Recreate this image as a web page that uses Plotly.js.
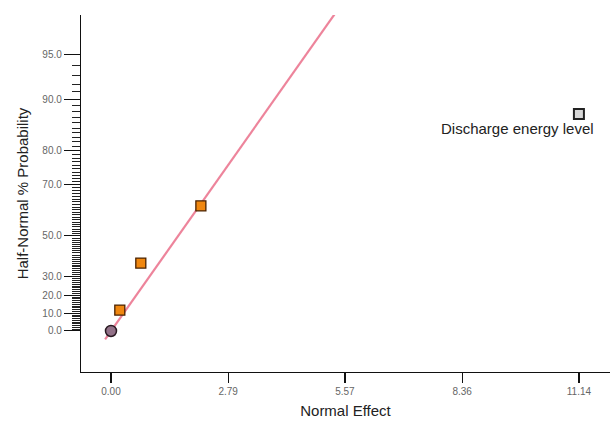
<!DOCTYPE html>
<html>
<head>
<meta charset="utf-8">
<script src="https://cdn.plot.ly/plotly-3.0.1.min.js"></script>
<style>html,body{margin:0;padding:0;background:#fff;}#chart{width:616px;height:424px;}</style>
</head>
<body>
<div id="chart"></div>
<script>
// ---- data (effects in Normal Effect units, probabilities in Half-Normal %) ----
var errorX = [0.00];
var errorP = [0.0];
var factorX = [0.21, 0.71, 2.14];
var factorP = [11.8, 37.0, 62.5];
var labeledX = [11.14];
var labeledP = [87.6];
var labeledText = ["Discharge energy level"];
// fitted line (x in effect units, y as half-normal score)
var lineX = [-0.14, 5.45];
var lineZ = [-0.06, 2.30];
// axis ticks
var xTickVals = [0.00, 2.79, 5.57, 8.36, 11.14];
var xTickText = ["0.00", "2.79", "5.57", "8.36", "11.14"];
var yTickPct = [0, 10, 20, 30, 50, 70, 80, 90, 95];
var yTickText = ["0.0", "10.0", "20.0", "30.0", "50.0", "70.0", "80.0", "90.0", "95.0"];

// inverse standard normal CDF (Acklam)
function qnorm(p) {
  var a = [-3.969683028665376e+01, 2.209460984245205e+02, -2.759285104469687e+02, 1.383577518672690e+02, -3.066479806614716e+01, 2.506628277459239e+00];
  var b = [-5.447609879822406e+01, 1.615858368580409e+02, -1.556989798598866e+02, 6.680131188771972e+01, -1.328068155288572e+01];
  var c = [-7.784894002430293e-03, -3.223964580411365e-01, -2.400758277161838e+00, -2.549732539343734e+00, 4.374664141464968e+00, 2.938163982698783e+00];
  var d = [7.784695709041462e-03, 3.224671290700398e-01, 2.445134137142996e+00, 3.754408661907416e+00];
  var pl = 0.02425, q, r;
  if (p < pl) { q = Math.sqrt(-2 * Math.log(p));
    return (((((c[0]*q+c[1])*q+c[2])*q+c[3])*q+c[4])*q+c[5]) / ((((d[0]*q+d[1])*q+d[2])*q+d[3])*q+1); }
  if (p <= 1 - pl) { q = p - 0.5; r = q * q;
    return (((((a[0]*r+a[1])*r+a[2])*r+a[3])*r+a[4])*r+a[5])*q / (((((b[0]*r+b[1])*r+b[2])*r+b[3])*r+b[4])*r+1); }
  q = Math.sqrt(-2 * Math.log(1 - p));
  return -(((((c[0]*q+c[1])*q+c[2])*q+c[3])*q+c[4])*q+c[5]) / ((((d[0]*q+d[1])*q+d[2])*q+d[3])*q+1);
}
function hz(pct) { return pct <= 0 ? 0 : qnorm(0.5 + pct / 200); }

var minorVals = [];
for (var i = 1; i < 95; i++) { if (yTickPct.indexOf(i) < 0) minorVals.push(hz(i)); }

var traces = [
  { x: lineX, y: lineZ, mode: 'lines', type: 'scatter', hoverinfo: 'skip',
    line: { color: 'rgba(234,110,138,0.85)', width: 2.2 } },
  { x: errorX, y: errorP.map(hz), mode: 'markers', type: 'scatter',
    marker: { symbol: 'circle', size: 11, color: '#927188', line: { color: '#2a1a22', width: 1.5 } } },
  { x: factorX, y: factorP.map(hz), mode: 'markers', type: 'scatter',
    marker: { symbol: 'square', size: 10, color: '#f0870f', line: { color: '#4a2200', width: 1.3 } } },
  { x: labeledX, y: labeledP.map(hz), mode: 'markers', type: 'scatter',
    marker: { symbol: 'square', size: 10, color: '#d8d8d8', line: { color: '#222', width: 2 } } }
];

var layout = {
  width: 616, height: 424,
  margin: { l: 81, r: 6, t: 15, b: 52 },
  paper_bgcolor: '#fff', plot_bgcolor: '#fff',
  showlegend: false,
  font: { family: 'Liberation Sans, Arial, sans-serif', color: '#222' },
  xaxis: {
    range: [-0.714, 11.88], showgrid: false, zeroline: false,
    showline: true, linecolor: '#111', linewidth: 1.2,
    ticks: 'outside', ticklen: 10, tickcolor: '#111', tickwidth: 1.2,
    tickmode: 'array', tickvals: xTickVals, ticktext: xTickText,
    tickfont: { size: 10, color: '#666' },
    title: { text: 'Normal Effect', font: { size: 15, color: '#222' }, standoff: 9 }
  },
  yaxis: {
    range: [-0.291, 2.241], showgrid: false, zeroline: false,
    showline: true, linecolor: '#111', linewidth: 1.2,
    ticks: 'outside', ticklen: 16, tickcolor: '#111', tickwidth: 1,
    tickmode: 'array', tickvals: yTickPct.map(hz), ticktext: yTickText,
    tickfont: { size: 10, color: '#666' },
    minor: { tickmode: 'array', tickvals: minorVals, ticks: 'outside', ticklen: 8, tickcolor: '#222', tickwidth: 1 },
    title: { text: 'Half-Normal % Probability', font: { size: 15, color: '#222' }, standoff: 10 }
  },
  annotations: [{
    x: labeledX[0], y: hz(labeledP[0]), xref: 'x', yref: 'y', text: labeledText[0],
    showarrow: false, xanchor: 'center', yanchor: 'middle', xshift: -61, yshift: -14,
    font: { size: 15, color: '#222' }
  }]
};

Plotly.newPlot('chart', traces, layout, { displayModeBar: false, staticPlot: true });
</script>
</body>
</html>
